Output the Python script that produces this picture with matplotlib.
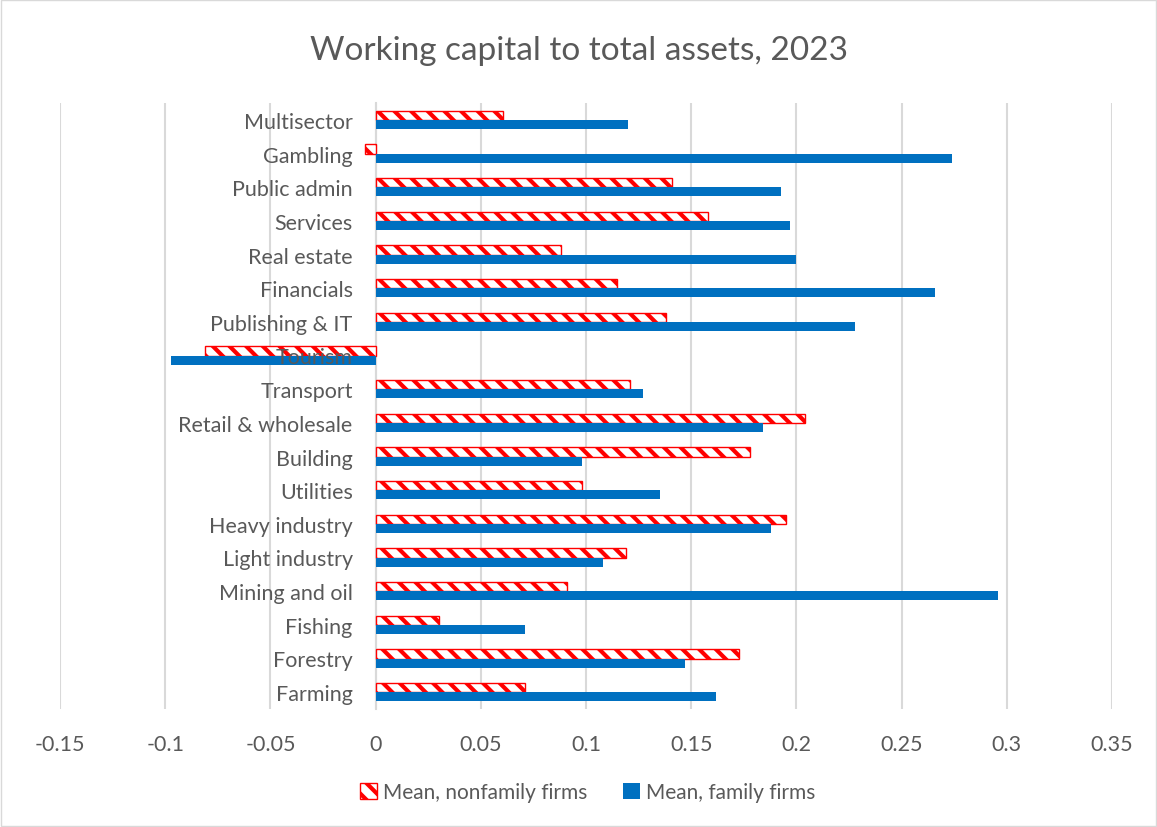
import matplotlib.pyplot as plt
import numpy as np

plt.rcParams['font.family'] = ['Lato', 'DejaVu Sans']
plt.rcParams['hatch.color'] = '#ff0000'
plt.rcParams['hatch.linewidth'] = 3.0

# data, bottom to top
sectors = ['Farming', 'Forestry', 'Fishing', 'Mining and oil', 'Light industry',
           'Heavy industry', 'Utilities', 'Building', 'Retail & wholesale',
           'Transport', 'Tourism', 'Publishing & IT', 'Financials', 'Real estate',
           'Services', 'Public admin', 'Gambling', 'Multisector']
nonfamily = [0.071, 0.1725, 0.030, 0.091, 0.119, 0.195, 0.098, 0.178, 0.204,
             0.121, -0.0813, 0.138, 0.1145, 0.088, 0.158, 0.141, -0.005, 0.0604]
family = [0.1616, 0.147, 0.071, 0.296, 0.108, 0.188, 0.135, 0.098, 0.184,
          0.127, -0.0974, 0.2277, 0.266, 0.1996, 0.197, 0.1925, 0.274, 0.120]

y = np.arange(len(sectors))
h = 0.27

fig = plt.figure(figsize=(11.57, 8.28), dpi=100)
ax = fig.add_axes([60 / 1157, 118 / 828, 1052 / 1157, 606 / 828])

ax.barh(y + h / 2, nonfamily, height=h, color='white', edgecolor='#ff0000',
        hatch='\\\\', linewidth=1.0, label='Mean, nonfamily firms', zorder=3)
ax.barh(y - h / 2, family, height=h, color='#0070c0',
        label='Mean, family firms', zorder=3)

ax.set_xlim(-0.15, 0.35)
ax.set_ylim(-0.5, len(sectors) - 0.5)
ax.set_xticks(np.arange(-0.15, 0.351, 0.05))
ax.set_xticklabels(['-0.15', '-0.1', '-0.05', '0', '0.05', '0.1', '0.15', '0.2',
                    '0.25', '0.3', '0.35'])
ax.set_yticks(y)
ax.set_yticklabels(sectors)

ax.grid(axis='x', color='#d9d9d9', linewidth=1.5, zorder=0)
for s in ['top', 'right', 'bottom']:
    ax.spines[s].set_visible(False)
ax.spines['left'].set_position(('data', 0))
ax.spines['left'].set_color('#d9d9d9')
ax.spines['left'].set_linewidth(1.5)
ax.tick_params(axis='both', length=0, labelsize=15.5, labelcolor='#595959')
ax.tick_params(axis='x', pad=18)
ax.tick_params(axis='y', pad=16.5)
ax.yaxis.set_zorder(5)

fig.text(0.5, 0.939, 'Working capital to total assets, 2023', ha='center',
         va='center', fontsize=24, color='#595959')

leg = fig.legend(loc='center', bbox_to_anchor=(0.508, 0.042), ncol=2, frameon=False,
                 fontsize=15, handlelength=0.8, handleheight=0.8,
                 columnspacing=1.7, handletextpad=0.3)
for t in leg.get_texts():
    t.set_color('#595959')

fig.patches.append(plt.Rectangle((0.001, 0.001), 0.998, 0.998, transform=fig.transFigure,
                                 fill=False, edgecolor='#d9d9d9', linewidth=1))

fig.savefig('out.png', dpi=100)
